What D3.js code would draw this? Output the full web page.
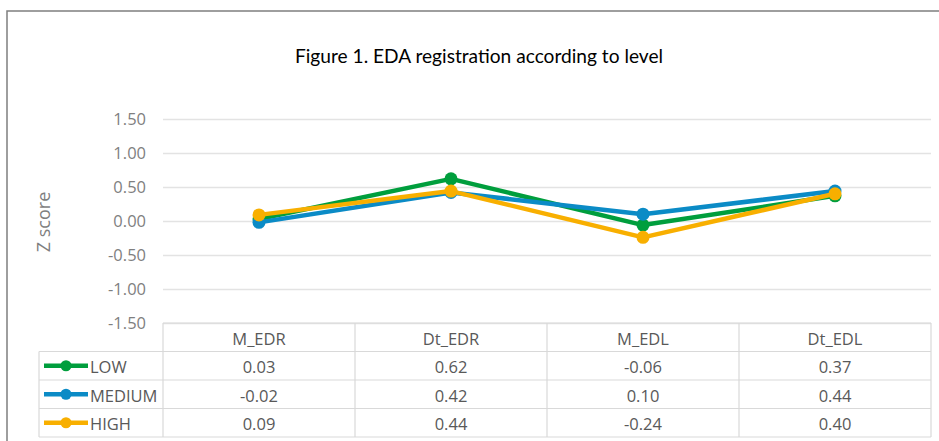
<!DOCTYPE html>
<html>
<head>
<meta charset="utf-8">
<script src="https://cdn.jsdelivr.net/npm/d3@7"></script>
<style>
  body { margin: 0; background: #fff; }
  svg { display: block; }
</style>
</head>
<body>
<div id="chart"></div>
<script>
// Data
var categories = ["M_EDR", "Dt_EDR", "M_EDL", "Dt_EDL"];
var seriesNames = ["LOW", "MEDIUM", "HIGH"];
var lowValues = [0.03, 0.62, -0.06, 0.37];
var mediumValues = [-0.02, 0.42, 0.10, 0.44];
var highValues = [0.09, 0.44, -0.24, 0.40];
var yTicks = [1.5, 1.0, 0.5, 0.0, -0.5, -1.0, -1.5];
var palette = ["#009E3D", "#0B8BC6", "#F8AF00"];

var series = [
    { name: seriesNames[0], values: lowValues },
    { name: seriesNames[1], values: mediumValues },
    { name: seriesNames[2], values: highValues }
];

(function() {
    var W = 939, H = 441;
    var plotLeft = 163, plotRight = 931, plotTop = 119, plotBottom = 323;
    var rowH = 28.5, legendX = 39;
    var font = "'Open Sans', sans-serif";
    // hyphen minus like the original, not the unicode minus d3 uses
    var fmt = function(v) { return d3.format(".2f")(v).replace("\u2212", "-"); };

    var svg = d3.select("#chart").append("svg")
        .attr("width", W).attr("height", H);

    // outer frame (only top and left visible)
    svg.append("path")
        .attr("d", "M7," + H + "V11H" + W)
        .attr("fill", "none").attr("stroke", "#7f7f7f").attr("stroke-width", 1.5);

    // title
    svg.append("text")
        .attr("x", 479).attr("y", 63)
        .attr("text-anchor", "middle")
        .attr("font-family", "Lato, 'DejaVu Sans', sans-serif")
        .attr("font-size", 19)
        .attr("fill", "#000")
        .attr("textLength", 368).attr("lengthAdjust", "spacingAndGlyphs")
        .text("Figure 1. EDA registration according to level");

    // scales
    var x = d3.scaleBand().domain(categories).range([plotLeft, plotRight]);
    var y = d3.scaleLinear().domain([-1.5, 1.5]).range([plotBottom, plotTop]);

    // y axis with grid lines
    var yAxis = svg.append("g")
        .attr("transform", "translate(" + plotLeft + ",0)")
        .call(d3.axisLeft(y).tickValues(yTicks).tickFormat(fmt)
            .tickSize(-(plotRight - plotLeft)).tickPadding(17));
    yAxis.select(".domain").remove();
    yAxis.selectAll(".tick line").attr("stroke", "#e3e3e3").attr("stroke-width", 1.3);
    yAxis.selectAll(".tick text")
        .attr("fill", "#7f7f7f")
        .attr("font-family", font)
        .attr("font-size", 16.5);

    // y axis title
    svg.append("text")
        .attr("transform", "translate(50,222) rotate(-90)")
        .attr("text-anchor", "middle")
        .attr("font-family", font)
        .attr("font-size", 18)
        .attr("fill", "#7f7f7f")
        .text("Z score");

    // lines and markers
    var cx = function(i) { return x(categories[i]) + x.bandwidth() / 2; };
    var line = d3.line()
        .x(function(d, i) { return cx(i); })
        .y(function(d) { return y(d); });

    var sg = svg.append("g").selectAll("g")
        .data(series).enter().append("g");

    sg.append("path")
        .attr("d", function(d) { return line(d.values); })
        .attr("fill", "none")
        .attr("stroke", function(d, i) { return palette[i]; })
        .attr("stroke-width", 4.5)
        .attr("stroke-linejoin", "round");

    sg.selectAll("circle")
        .data(function(d, i) { return d.values.map(function(v) { return { v: v, c: palette[i] }; }); })
        .enter().append("circle")
        .attr("cx", function(d, i) { return cx(i); })
        .attr("cy", function(d) { return y(d.v); })
        .attr("r", 6.5)
        .attr("fill", function(d) { return d.c; });

    // data table
    var table = svg.append("g");
    var tableTop = plotBottom;
    var tableBottom = tableTop + rowH * (series.length + 1);

    // horizontal lines
    table.append("line")
        .attr("x1", plotLeft).attr("x2", plotRight)
        .attr("y1", tableTop).attr("y2", tableTop);
    for (var r = 1; r <= series.length + 1; r++) {
        table.append("line")
            .attr("x1", legendX).attr("x2", plotRight)
            .attr("y1", tableTop + r * rowH).attr("y2", tableTop + r * rowH);
    }
    // vertical lines
    table.append("line")
        .attr("x1", legendX).attr("x2", legendX)
        .attr("y1", tableTop + rowH).attr("y2", tableBottom);
    categories.concat(["end"]).forEach(function(c, i) {
        var xx = i < categories.length ? x(c) : plotRight;
        table.append("line")
            .attr("x1", xx).attr("x2", xx)
            .attr("y1", tableTop).attr("y2", tableBottom);
    });
    table.selectAll("line").attr("stroke", "#d9d9d9").attr("stroke-width", 1.2);

    var txt = function(sel) {
        return sel.attr("font-family", font)
            .attr("font-size", 16.5)
            .attr("fill", "#595959")
            .attr("dominant-baseline", "central");
    };

    // header row
    table.selectAll(".hdr").data(categories).enter().append("text")
        .attr("class", "hdr")
        .attr("x", function(d) { return x(d) + x.bandwidth() / 2; })
        .attr("y", tableTop + rowH / 2 + 1)
        .attr("text-anchor", "middle")
        .text(function(d) { return d; })
        .call(txt);

    // series rows
    series.forEach(function(s, si) {
        var cy = tableTop + (si + 1) * rowH + rowH / 2;
        table.append("line")
            .attr("x1", 44).attr("x2", 88).attr("y1", cy).attr("y2", cy)
            .attr("stroke", palette[si]).attr("stroke-width", 4.5);
        table.append("circle")
            .attr("cx", 66).attr("cy", cy).attr("r", 5.5)
            .attr("fill", palette[si]);
        table.append("text")
            .attr("x", 90).attr("y", cy + 1)
            .text(s.name)
            .call(txt);
        s.values.forEach(function(v, i) {
            table.append("text")
                .attr("x", cx(i))
                .attr("y", cy + 1)
                .attr("text-anchor", "middle")
                .text(fmt(v))
                .call(txt);
        });
    });
})();
</script>
</body>
</html>
